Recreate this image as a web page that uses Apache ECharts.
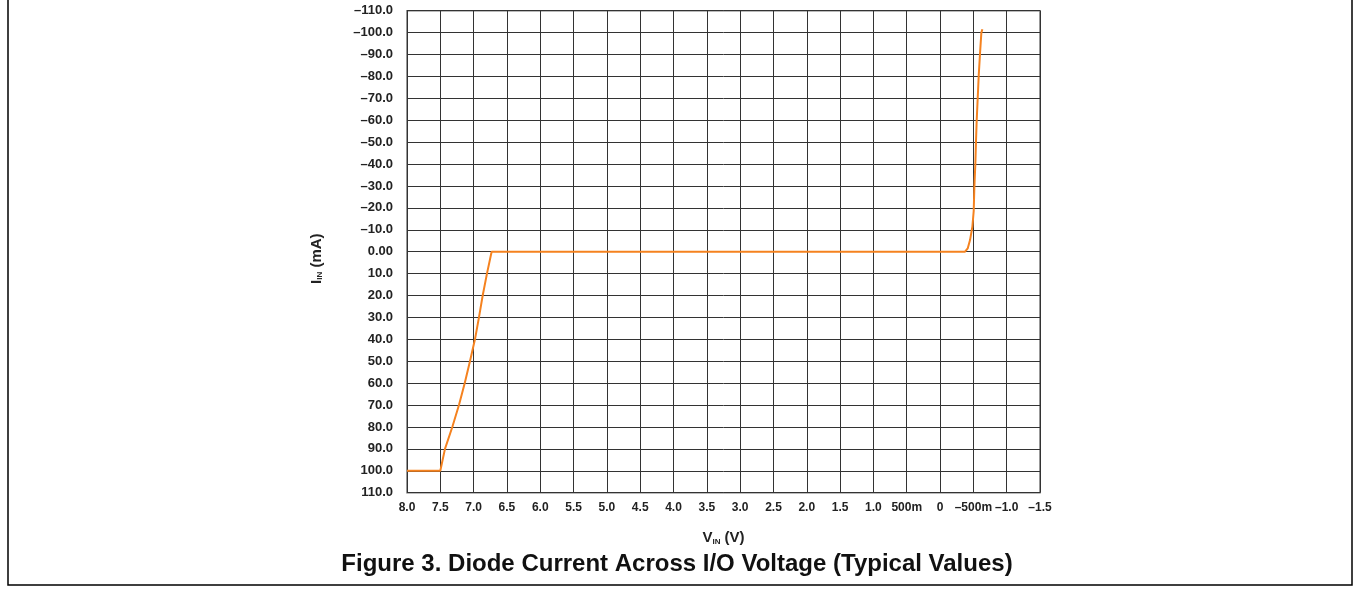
<!DOCTYPE html>
<html>
<head>
<meta charset="utf-8">
<script src="https://cdn.jsdelivr.net/npm/echarts@6/dist/echarts.min.js"></script>
<style>
html,body{margin:0;padding:0;background:#fff;}
#chart{width:1354px;height:592px;}
</style>
</head>
<body>
<div id="chart"></div>
<script>
// Data
const vin = [8.0, 7.5, 7.43, 7.32, 7.22, 7.134, 7.055, 6.98, 6.92, 6.864, 6.80, 6.73,
  -0.375, -0.415, -0.45, -0.485, -0.505, -0.515, -0.53, -0.54, -0.55, -0.565, -0.58, -0.60, -0.62, -0.635];
const iin = [100, 100, 90, 80, 70, 60, 50, 40, 30, 20, 10, 0,
  0, -1.5, -5.3, -11.4, -18.5, -29.6, -40.3, -51, -60, -70, -80.2, -90.5, -100, -101.5];

const xTickValues = [8.0, 7.5, 7.0, 6.5, 6.0, 5.5, 5.0, 4.5, 4.0, 3.5, 3.0, 2.5, 2.0, 1.5, 1.0, 0.5, 0, -0.5, -1.0, -1.5];
const xTickLabels = ['8.0','7.5','7.0','6.5','6.0','5.5','5.0','4.5','4.0','3.5','3.0','2.5','2.0','1.5','1.0','500m','0','\u2013500m','\u20131.0','\u20131.5'];
const yTickValues = [-110,-100,-90,-80,-70,-60,-50,-40,-30,-20,-10,0,10,20,30,40,50,60,70,80,90,100,110];
const yTickLabels = ['\u2013110.0','\u2013100.0','\u201390.0','\u201380.0','\u201370.0','\u201360.0','\u201350.0','\u201340.0','\u201330.0','\u201320.0','\u201310.0','0.00','10.0','20.0','30.0','40.0','50.0','60.0','70.0','80.0','90.0','100.0','110.0'];

const title = 'Figure 3. Diode Current Across I/O Voltage (Typical Values)';

function lookup(vals, labels, v) {
  for (let i = 0; i < vals.length; i++) if (Math.abs(vals[i] - v) < 1e-6) return labels[i];
  return '';
}

const points = vin.map((v, i) => [v, iin[i]]);
const FONT = '"Liberation Sans", Arial, Helvetica, sans-serif';
const chart = echarts.init(document.getElementById('chart'), null, {renderer: 'canvas'});
chart.setOption({
  animation: false,
  backgroundColor: '#fff',
  grid: {left: 407, right: 314, top: 10.7, bottom: 99.3, show: true, borderColor: '#777', borderWidth: 1.5, containLabel: false},
  xAxis: {
    type: 'value', min: -1.5, max: 8.0, interval: 0.5, inverse: true,
    name: '{a|V}{s|IN}{a| (V)}', nameLocation: 'middle', nameGap: 38,
    nameTextStyle: {rich: {a: {fontFamily: FONT, fontWeight: 'bold', fontSize: 15, color: '#222'}, s: {fontFamily: FONT, fontWeight: 'bold', fontSize: 8, color: '#222', verticalAlign: 'bottom', padding: [7,0,0,0]}}},
    axisLine: {show: false}, axisTick: {show: false},
    axisLabel: {margin: 9, fontFamily: FONT, fontWeight: 'bold', fontSize: 12, color: '#222', formatter: v => lookup(xTickValues, xTickLabels, v)},
    splitLine: {show: true, lineStyle: {color: '#333', width: 1}}
  },
  yAxis: {
    type: 'value', min: -110, max: 110, interval: 10, inverse: true,
    name: '{a|I}{s|IN}{a| (mA)}', nameLocation: 'middle', nameGap: 83, nameRotate: 90,
    nameTextStyle: {padding: [0, 14, 0, 0], rich: {a: {fontFamily: FONT, fontWeight: 'bold', fontSize: 15, color: '#222'}, s: {fontFamily: FONT, fontWeight: 'bold', fontSize: 8, color: '#222', verticalAlign: 'bottom', padding: [7,0,0,0]}}},
    axisLine: {show: false}, axisTick: {show: false},
    axisLabel: {margin: 14, fontFamily: FONT, fontWeight: 'bold', fontSize: 13, color: '#222', formatter: v => lookup(yTickValues, yTickLabels, v)},
    splitLine: {show: true, lineStyle: {color: '#333', width: 1}}
  },
  series: [{
    type: 'line', data: points, showSymbol: false, symbol: 'none',
    lineStyle: {color: '#F5821F', width: 2}, z: 5
  }],
  graphic: [
    {type: 'rect', shape: {x: 8, y: -10, width: 1344, height: 595}, style: {fill: 'none', stroke: '#000', lineWidth: 1.5}, silent: true},
    {type: 'text', left: 'center', top: 552, style: {text: title, font: 'bold 24px ' + FONT, fill: '#111'}}
  ]
});
</script>
</body>
</html>
